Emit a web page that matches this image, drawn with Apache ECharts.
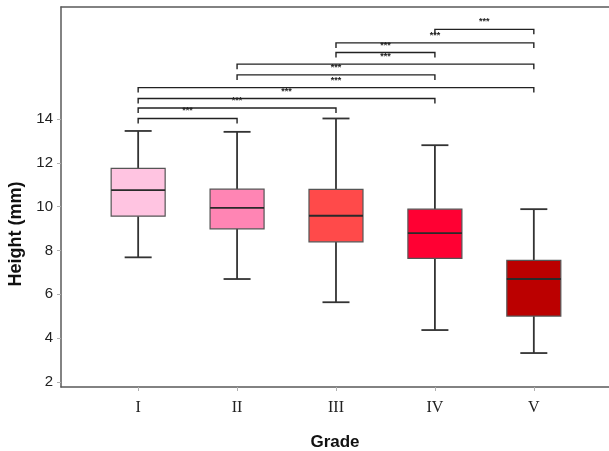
<!DOCTYPE html>
<html>
<head>
<meta charset="utf-8">
<script src="https://cdn.jsdelivr.net/npm/echarts@6/dist/echarts.min.js"></script>
<style>
html,body{margin:0;padding:0;background:#fff;}
#chart{width:609px;height:451px;}
</style>
</head>
<body>
<div id="chart"></div>
<script>
const categories = ['I', 'II', 'III', 'IV', 'V'];
const positions = [1, 2, 3, 4, 5];
const boxMin = [7.69, 6.70, 5.64, 4.37, 3.32];
const boxQ1 = [9.57, 8.99, 8.40, 7.64, 5.01];
const boxMedian = [10.76, 9.95, 9.59, 8.80, 6.70];
const boxQ3 = [11.75, 10.80, 10.79, 9.89, 7.55];
const boxMax = [13.46, 13.42, 14.03, 12.81, 9.89];
const boxColors = ['#FFC4E1', '#FF85B4', '#FF4A4A', '#FF0033', '#BB0000'];
const yTicks = [2, 4, 6, 8, 10, 12, 14];
const bracketFrom = [4, 3, 3, 2, 2, 1, 1, 1, 1];
const bracketTo = [5, 5, 4, 5, 4, 5, 4, 3, 2];
const bracketLevel = [18.10, 17.48, 17.04, 16.51, 16.02, 15.44, 14.94, 14.51, 14.03];
const bracketLabel = ['***', '***', '***', '***', '***', '***', '***', '***', '***'];

const boxData = positions.map((p, i) => [p, boxMin[i], boxQ1[i], boxMedian[i], boxQ3[i], boxMax[i], i]);
const bracketData = bracketFrom.map((f, i) => [f, bracketTo[i], bracketLevel[i], i]);

const X_MIN = 0.22, X_MAX = 5.76, Y_MIN = 1.77, Y_MAX = 19.12;
const BOX_W = 54, CAP_W = 27;
const axisLineStyle = { color: '#5a5a5a', width: 1.5 };

const chart = echarts.init(document.getElementById('chart'), null, { renderer: 'canvas' });
chart.setOption({
  animation: false,
  backgroundColor: '#fff',
  grid: { left: 61, top: 7, right: 0, bottom: 64, containLabel: false, outerBoundsMode: 'none' },
  xAxis: [{
    type: 'value', min: X_MIN, max: X_MAX,
    splitLine: { show: false },
    axisLine: { show: true, lineStyle: axisLineStyle },
    axisTick: { show: true, customValues: positions, length: 4, inside: false, lineStyle: { color: '#b0b0b0' } },
    axisLabel: {
      customValues: positions, margin: 13,
      formatter: v => categories[Math.round(v) - 1] || '',
      fontFamily: 'Liberation Serif', fontSize: 16, color: '#222'
    },
    name: 'Grade', nameLocation: 'middle', nameGap: 47,
    nameTextStyle: { fontFamily: 'Liberation Sans', fontWeight: 'bold', fontSize: 17, color: '#111' }
  }, {
    type: 'value', position: 'top', min: X_MIN, max: X_MAX,
    splitLine: { show: false },
    axisLine: { show: true, lineStyle: axisLineStyle },
    axisTick: { show: false }, axisLabel: { show: false }
  }],
  yAxis: {
    type: 'value', min: Y_MIN, max: Y_MAX,
    splitLine: { show: false },
    axisLine: { show: true, lineStyle: axisLineStyle },
    axisTick: { show: true, customValues: yTicks, length: 4, lineStyle: { color: '#b0b0b0' } },
    axisLabel: { customValues: yTicks, margin: 8, fontFamily: 'Liberation Sans', fontSize: 15, color: '#222' }
  },
  graphic: [{
    type: 'text', x: 16, y: 234, rotation: Math.PI / 2,
    style: { text: 'Height (mm)', align: 'center', verticalAlign: 'middle',
      font: 'bold 18px "Liberation Sans"', fill: '#111' }
  }],
  series: [{
    type: 'custom',
    xAxisIndex: 0,
    data: boxData,
    encode: { x: 0, y: [1, 2, 3, 4, 5] },
    renderItem: function (params, api) {
      const x = api.value(0);
      const pMin = api.coord([x, api.value(1)]);
      const pQ1 = api.coord([x, api.value(2)]);
      const pMed = api.coord([x, api.value(3)]);
      const pQ3 = api.coord([x, api.value(4)]);
      const pMax = api.coord([x, api.value(5)]);
      const cx = pMed[0];
      const idx = api.value(6);
      const whisker = { stroke: '#333', lineWidth: 1.8 };
      return {
        type: 'group',
        children: [
          { type: 'line', shape: { x1: cx, y1: pMax[1], x2: cx, y2: pQ3[1] }, style: whisker },
          { type: 'line', shape: { x1: cx, y1: pQ1[1], x2: cx, y2: pMin[1] }, style: whisker },
          { type: 'line', shape: { x1: cx - CAP_W / 2, y1: pMax[1], x2: cx + CAP_W / 2, y2: pMax[1] }, style: whisker },
          { type: 'line', shape: { x1: cx - CAP_W / 2, y1: pMin[1], x2: cx + CAP_W / 2, y2: pMin[1] }, style: whisker },
          { type: 'rect', shape: { x: cx - BOX_W / 2, y: pQ3[1], width: BOX_W, height: pQ1[1] - pQ3[1] },
            style: { fill: boxColors[idx], stroke: '#555', lineWidth: 1.2 } },
          { type: 'line', shape: { x1: cx - BOX_W / 2, y1: pMed[1], x2: cx + BOX_W / 2, y2: pMed[1] },
            style: { stroke: '#2a2a2a', lineWidth: 1.8 } }
        ]
      };
    }
  }, {
    type: 'custom',
    xAxisIndex: 0,
    clip: false,
    data: bracketData,
    encode: { x: [0, 1], y: 2 },
    renderItem: function (params, api) {
      const p1 = api.coord([api.value(0), api.value(2)]);
      const p2 = api.coord([api.value(1), api.value(2)]);
      const idx = api.value(3);
      return {
        type: 'group',
        children: [{
          type: 'polyline',
          shape: { points: [[p1[0], p1[1] + 5], [p1[0], p1[1]], [p2[0], p2[1]], [p2[0], p2[1] + 5]] },
          style: { stroke: '#222', lineWidth: 1.4, fill: null }
        }, {
          type: 'text',
          x: (p1[0] + p2[0]) / 2, y: p1[1] - 3,
          style: { text: bracketLabel[idx], align: 'center', verticalAlign: 'bottom',
            font: 'bold 9px "Liberation Sans"', fill: '#222' }
        }]
      };
    }
  }]
});
</script>
</body>
</html>
